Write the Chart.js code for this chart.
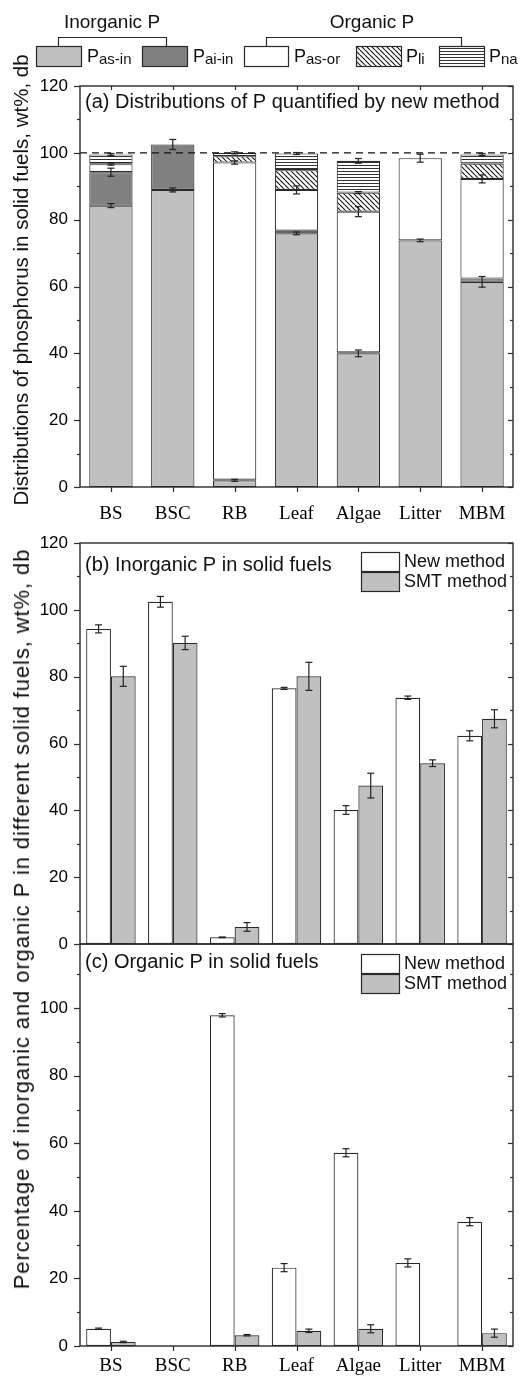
<!DOCTYPE html>
<html><head><meta charset="utf-8">
<script src="https://cdn.jsdelivr.net/npm/chart.js@4"></script>
<style>
html,body{margin:0;padding:0;background:#fff;}
body{width:526px;height:1376px;position:relative;overflow:hidden;font-family:'Liberation Sans',Arial,sans-serif;}
canvas{position:absolute;left:0;}
#ytitle2{position:absolute;left:22px;top:919px;transform:translate(-50%,-50%) rotate(-90deg);white-space:nowrap;font-size:22px;letter-spacing:0.9px;color:#111;line-height:1;}
</style></head>
<body>
<canvas id="ca" width="526" height="530" style="top:0"></canvas>
<canvas id="cb" width="526" height="426" style="top:530px"></canvas>
<canvas id="cc" width="526" height="438" style="top:938px"></canvas>
<div id="ytitle2">Percentage of inorganic and organic P in different solid fuels, wt%, db</div>
<script>
// ---------------- data ----------------
const categories = ['BS','BSC','RB','Leaf','Algae','Litter','MBM'];
// (a) distributions by new method (stacked, wt%)
const pAsIn = [84.2, 88.9, 2.0, 75.9, 40.0, 73.8, 61.4];
const pAiIn = [10.0, 13.6, 0.2, 0.8, 0.3, null, 1.0];
const pAsOr = [2.4, null, 94.9, 12.2, 42.1, 24.6, 29.8];
const pLi   = [0.3, null, 1.9, 5.9, 5.7, null, 4.6];
const pNa   = [2.6, null, 1.0, 5.0, 9.5, null, 2.7];
const eAsIn = [0.6, 0.6, 0.3, 0.4, 1.0, 0.4, 1.6];
const eAiIn = [1.2, 1.5, 0, 0, 0, 0, 0];
const eAsOr = [0.3, 0, 0.5, 1.2, 1.5, 1.2, 1.2];
const eLi   = [0, 0, 0, 0, 0.3, 0, 0];
const eNa   = [0.3, 0, 0.3, 0.3, 0.7, 0, 0.3];
// (b) inorganic P
const inorgNew    = [94.3, 102.4, 2.0, 76.5, 40.1, 73.7, 62.3];
const inorgNewErr = [1.2, 1.6, 0.1, 0.3, 1.3, 0.5, 1.5];
const inorgSMT    = [80.1, 90.1, 5.1, 80.1, 47.4, 54.1, 67.4];
const inorgSMTErr = [3.0, 2.0, 1.3, 4.2, 3.7, 1.0, 2.7];
// (c) organic P
const orgNew    = [5.1, 0, 97.9, 23.2, 57.2, 24.6, 36.8];
const orgNewErr = [0.2, 0, 0.5, 1.2, 1.2, 1.2, 1.2];
const orgSMT    = [1.2, 0, 3.2, 4.5, 5.1, 0, 3.8];
const orgSMTErr = [0.2, 0, 0.2, 0.5, 1.2, 0, 1.2];
// tick labels
const yTicksA = [0, 20, 40, 60, 80, 100, 120];
const yTicksB = [0, 20, 40, 60, 80, 100, 120];
const yTicksC = [0, 20, 40, 60, 80, 100];

// ---------------- styles ----------------
const GRAY_L = '#c0c0c0', GRAY_D = '#808080', EDGE = '#2a2a2a', INK = '#111';
const SANS = "'Liberation Sans', Arial, sans-serif";
const SERIF = "'Liberation Serif', 'Times New Roman', serif";

const ctxA = document.getElementById('ca').getContext('2d');
const ctxB = document.getElementById('cb').getContext('2d');
const ctxC = document.getElementById('cc').getContext('2d');

function makeDiag(target){
  const s = 5, c = document.createElement('canvas'); c.width = s; c.height = s;
  const g = c.getContext('2d');
  g.fillStyle = '#fff'; g.fillRect(0,0,s,s);
  g.strokeStyle = '#111'; g.lineWidth = 1.1; g.beginPath();
  for (let k=-1;k<=1;k++){ g.moveTo(k*s,0); g.lineTo(k*s+s,s); }
  g.stroke();
  return target.createPattern(c,'repeat');
}
function makeHoriz(target){
  const c = document.createElement('canvas'); c.width = 4; c.height = 3;
  const g = c.getContext('2d');
  g.fillStyle = '#fff'; g.fillRect(0,0,4,3);
  g.fillStyle = '#333'; g.fillRect(0,0,4,1);
  return target.createPattern(c,'repeat');
}
const diagA = makeDiag(ctxA), horizA = makeHoriz(ctxA);

function line(ctx,x1,y1,x2,y2){ ctx.beginPath(); ctx.moveTo(x1,y1); ctx.lineTo(x2,y2); ctx.stroke(); }
function errBar(ctx,x,y1,y2,cap){ line(ctx,x,y1,x,y2); line(ctx,x-cap,y1,x+cap,y1); line(ctx,x-cap,y2,x+cap,y2); }

function frameTicks(chart, o){
  const ctx = chart.ctx, a = chart.chartArea, y = chart.scales.y, x = chart.scales.x;
  ctx.save();
  ctx.strokeStyle = EDGE; ctx.lineWidth = 1.2;
  for (let v=0; v<=o.max+0.001; v+=10){
    const py = Math.round(y.getPixelForValue(v))+0.5, major = v%20===0;
    line(ctx, a.left-(major?6:3), py, a.left, py);
    line(ctx, a.right, py, a.right-(major?5:3), py);
  }
  categories.forEach((c,i)=>{
    const px = Math.round(x.getPixelForValue(i))+0.5;
    if (o.bottom) line(ctx, px, a.bottom, px, a.bottom+5);
    if (o.top) line(ctx, px, a.top, px, a.top+4);
  });
  ctx.lineWidth = 1.4;
  ctx.strokeRect(a.left, a.top, a.right-a.left, a.bottom-a.top);
  ctx.restore();
}

function subLabel(ctx, x, y, main, sub){
  ctx.font = '18px ' + SANS; ctx.textAlign = 'left'; ctx.textBaseline = 'middle'; ctx.fillStyle = INK;
  ctx.fillText(main, x, y);
  const w = ctx.measureText(main).width;
  ctx.font = '15px ' + SANS;
  ctx.fillText(sub, x + w, y + 3);
}
function box(ctx, x, y, w, h, fill){
  ctx.fillStyle = fill; ctx.fillRect(x, y, w, h);
  ctx.strokeStyle = EDGE; ctx.lineWidth = 1.2; ctx.strokeRect(x+0.5, y+0.5, w, h);
}

const scaleFontY = {family: SANS, size: 17};
function fitY(s){ s.width = 80; s.paddingTop = 0; s.paddingBottom = 0; }

// ---------------- chart (a) ----------------
function dsA(label, data, bg){
  return {label, data, backgroundColor: bg, borderColor: EDGE, borderWidth: 1.1,
          borderSkipped: false, barPercentage: 0.7, categoryPercentage: 1.0};
}
const errsA = [eAsIn, eAiIn, eAsOr, eLi, eNa];
new Chart(ctxA, {
  type: 'bar',
  data: {labels: categories, datasets: [
    dsA('Pas-in', pAsIn, GRAY_L), dsA('Pai-in', pAiIn, GRAY_D), dsA('Pas-or', pAsOr, '#ffffff'),
    dsA('Pli', pLi, diagA), dsA('Pna', pNa, horizA)
  ]},
  options: {
    responsive: false, animation: false, events: [],
    layout: {padding: {left: 0, right: 13, top: 86, bottom: 0}},
    plugins: {legend: {display: false}, tooltip: {enabled: false}},
    scales: {
      x: {stacked: true, grid: {display: false, drawTicks: false}, border: {display: false},
          ticks: {color: '#000', font: {family: SERIF, size: 19}, padding: 16, maxRotation: 0, autoSkip: false},
          afterFit: s => { s.height = 43; }},
      y: {stacked: true, min: 0, max: 120, grid: {display: false, drawTicks: false}, border: {display: false},
          ticks: {color: '#000', font: scaleFontY, padding: 12},
          afterBuildTicks: s => { s.ticks = yTicksA.map(v => ({value: v})); },
          afterFit: fitY}
    }
  },
  plugins: [{
    id: 'decoA',
    afterDatasetsDraw(chart){
      const ctx = chart.ctx, a = chart.chartArea, y = chart.scales.y;
      ctx.save();
      // dashed 100% line
      ctx.strokeStyle = '#111'; ctx.lineWidth = 1.3; ctx.setLineDash([7,5]);
      const p100 = y.getPixelForValue(100);
      line(ctx, a.left, p100, a.right, p100);
      ctx.setLineDash([]);
      // error bars
      ctx.strokeStyle = '#222'; ctx.lineWidth = 1.2;
      chart.data.datasets.forEach((d,i) => {
        const meta = chart.getDatasetMeta(i);
        d.data.forEach((v,j) => {
          const e = errsA[i][j];
          if (v == null || !e) return;
          let cum = 0;
          for (let k=0;k<=i;k++){ const vv = chart.data.datasets[k].data[j]; if (vv != null) cum += vv; }
          errBar(ctx, meta.data[j].x, y.getPixelForValue(cum-e), y.getPixelForValue(cum+e), 3.5);
        });
      });
      ctx.restore();
    },
    afterDraw(chart){
      const ctx = chart.ctx;
      frameTicks(chart, {max: 120, bottom: true, top: true});
      ctx.save();
      // panel title
      ctx.fillStyle = INK; ctx.font = '20px ' + SANS; ctx.textAlign = 'left'; ctx.textBaseline = 'middle';
      ctx.fillText('(a) Distributions of P quantified by new method', 85, 102);
      // y title
      ctx.save(); ctx.translate(22, 280); ctx.rotate(-Math.PI/2);
      ctx.font = '20.5px ' + SANS; ctx.textAlign = 'center'; ctx.textBaseline = 'middle';
      ctx.fillText('Distributions of phosphorus in solid fuels, wt%, db', 0, 0);
      ctx.restore();
      // legend group labels + brackets
      ctx.font = '19px ' + SANS; ctx.textAlign = 'center'; ctx.textBaseline = 'middle';
      ctx.fillText('Inorganic P', 112, 23);
      ctx.fillText('Organic P', 372, 23);
      ctx.strokeStyle = EDGE; ctx.lineWidth = 1.2;
      ctx.beginPath(); ctx.moveTo(58.5, 46); ctx.lineTo(58.5, 37.5); ctx.lineTo(166.5, 37.5); ctx.lineTo(166.5, 46); ctx.stroke();
      ctx.beginPath(); ctx.moveTo(266.5, 46); ctx.lineTo(266.5, 37.5); ctx.lineTo(461.5, 37.5); ctx.lineTo(461.5, 46); ctx.stroke();
      // legend boxes
      box(ctx, 36, 46, 45, 20, GRAY_L);  subLabel(ctx, 87, 57, 'P', 'as-in');
      box(ctx, 142, 46, 45, 20, GRAY_D); subLabel(ctx, 193, 57, 'P', 'ai-in');
      box(ctx, 244, 46, 44, 20, '#fff'); subLabel(ctx, 294, 57, 'P', 'as-or');
      box(ctx, 356, 46, 45, 20, diagA);  subLabel(ctx, 406, 57, 'P', 'li');
      box(ctx, 439, 46, 45, 20, horizA); subLabel(ctx, 489, 57, 'P', 'na');
      ctx.restore();
    }
  }]
});

// ---------------- charts (b) and (c) ----------------
function dsG(label, data, bg){
  return {label, data, backgroundColor: bg, borderColor: EDGE, borderWidth: 1.2,
          borderSkipped: false, barPercentage: 1.0, categoryPercentage: 0.8};
}
function groupedChart(ctx, cfg){
  const errs = cfg.errs;
  return new Chart(ctx, {
    type: 'bar',
    data: {labels: categories, datasets: [dsG('New method', cfg.a, '#ffffff'), dsG('SMT method', cfg.b, GRAY_L)]},
    options: {
      responsive: false, animation: false, events: [],
      layout: {padding: cfg.padding},
      plugins: {legend: {display: false}, tooltip: {enabled: false}},
      scales: {
        x: {display: cfg.showX, grid: {display: false, drawTicks: false}, border: {display: false},
            ticks: {color: '#000', font: {family: SERIF, size: 19}, padding: cfg.xPad, maxRotation: 0, autoSkip: false},
            afterFit: s => { s.height = cfg.xH; }},
        y: {min: 0, max: cfg.max, grid: {display: false, drawTicks: false}, border: {display: false},
            ticks: {color: '#000', font: scaleFontY, padding: 12},
            afterBuildTicks: s => { s.ticks = cfg.yTicks.map(v => ({value: v})); },
            afterFit: fitY}
      }
    },
    plugins: [{
      id: 'decoG',
      afterDatasetsDraw(chart){
        const c = chart.ctx, y = chart.scales.y;
        c.save(); c.strokeStyle = '#222'; c.lineWidth = 1.2;
        chart.data.datasets.forEach((d,i) => {
          const meta = chart.getDatasetMeta(i);
          d.data.forEach((v,j) => {
            const e = errs[i][j]; if (!e) return;
            errBar(c, meta.data[j].x, y.getPixelForValue(v-e), y.getPixelForValue(v+e), 3.5);
          });
        });
        c.restore();
      },
      afterDraw(chart){
        const c = chart.ctx;
        frameTicks(chart, {max: cfg.max, bottom: cfg.showX, top: false});
        c.save();
        c.fillStyle = INK; c.font = '20px ' + SANS; c.textAlign = 'left'; c.textBaseline = 'middle';
        c.fillText(cfg.title, 85, cfg.titleY);
        box(c, 361, cfg.legY, 38, 19, '#fff');
        box(c, 361, cfg.legY + 20, 38, 19, GRAY_L);
        c.fillStyle = INK; c.font = '18px ' + SANS; c.textAlign = 'left'; c.textBaseline = 'middle';
        c.fillText('New method', 404, cfg.legY + 10);
        c.fillText('SMT method', 404, cfg.legY + 30);
        c.restore();
      }
    }]
  });
}
// canvas b top = 530 ; plot area 543..944
groupedChart(ctxB, {
  a: inorgNew, b: inorgSMT, errs: [inorgNewErr, inorgSMTErr], max: 120, yTicks: yTicksB,
  padding: {left: 0, right: 13, top: 13, bottom: 12}, showX: false, xH: 0, xPad: 0,
  title: '(b) Inorganic P in solid fuels', titleY: 35, legY: 22
});
// canvas c top = 938 ; plot area 944..1346
groupedChart(ctxC, {
  a: orgNew, b: orgSMT, errs: [orgNewErr, orgSMTErr], max: 119, yTicks: yTicksC,
  padding: {left: 0, right: 13, top: 6, bottom: 0}, showX: true, xH: 30, xPad: 9,
  title: '(c) Organic P in solid fuels', titleY: 24, legY: 16
});
</script>
</body></html>
